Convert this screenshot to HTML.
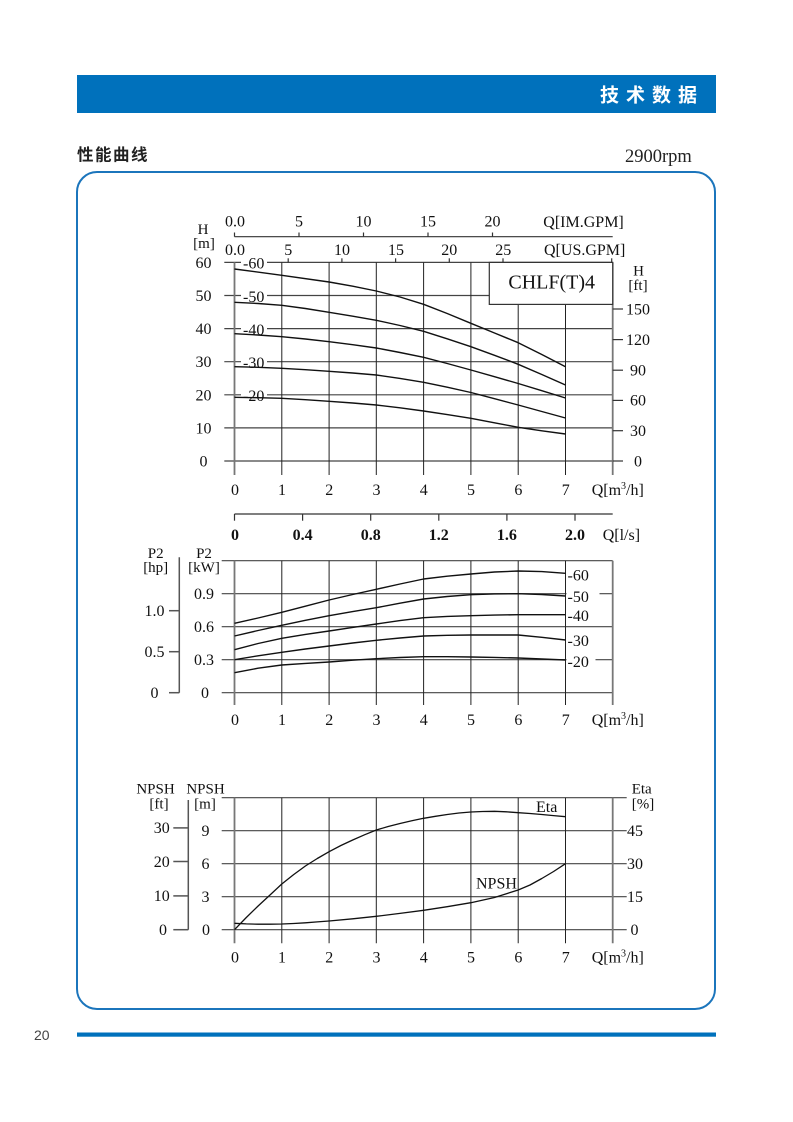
<!DOCTYPE html>
<html><head><meta charset="utf-8">
<style>
html,body{margin:0;padding:0;background:#fff;}
svg{display:block;}
.t{font-family:"Liberation Serif",serif;font-size:16px;fill:#111;}
.m{text-anchor:middle;}
.s{font-size:15px;}
</style></head>
<body>
<svg width="793" height="1122" viewBox="0 0 793 1122" xmlns="http://www.w3.org/2000/svg">
<!-- header -->
<rect x="77" y="75" width="639" height="38" fill="#0071bc"/>
<text x="600" y="101.5" style="font-family:'Liberation Sans','Noto Sans CJK SC',sans-serif;font-weight:bold;font-size:19px;letter-spacing:7px;fill:#fff">技术数据</text>
<text x="77" y="160.5" style="font-family:'Liberation Sans','Noto Sans CJK SC',sans-serif;font-weight:bold;font-size:16.5px;letter-spacing:1.5px;fill:#222">性能曲线</text>
<text x="625" y="162" style="font-family:'Liberation Serif',serif;font-size:18.5px;fill:#222">2900rpm</text>
<!-- frame -->
<rect x="77" y="172" width="638" height="837" rx="20" ry="20" fill="none" stroke="#1b75bc" stroke-width="2"/>
<!-- footer -->
<rect x="77" y="1032.5" width="639" height="4.2" fill="#0071bc"/>
<text x="34" y="1040" style="font-family:'Liberation Sans',sans-serif;font-size:14px;fill:#444">20</text>

<!-- ============ TOP CHART ============ -->
<g stroke="#444" stroke-width="1.2" fill="none">
<line x1="224.3" y1="461" x2="612.7" y2="461"/>
<line x1="224.3" y1="427.9" x2="612.7" y2="427.9"/>
<line x1="224.3" y1="394.8" x2="612.7" y2="394.8"/>
<line x1="224.3" y1="361.7" x2="612.7" y2="361.7"/>
<line x1="224.3" y1="328.6" x2="612.7" y2="328.6"/>
<line x1="224.3" y1="295.5" x2="612.7" y2="295.5"/>
<line x1="224.3" y1="262.4" x2="612.7" y2="262.4"/>
</g>
<g stroke="#222" stroke-width="1" fill="none">
<line x1="281.8" y1="262.4" x2="281.8" y2="475"/>
<line x1="329.1" y1="262.4" x2="329.1" y2="475"/>
<line x1="376.3" y1="262.4" x2="376.3" y2="475"/>
<line x1="423.6" y1="262.4" x2="423.6" y2="475"/>
<line x1="470.9" y1="262.4" x2="470.9" y2="475"/>
<line x1="518.2" y1="262.4" x2="518.2" y2="475"/>
<line x1="565.5" y1="262.4" x2="565.5" y2="475"/>
</g>
<g stroke="#777" stroke-width="1.8" fill="none">
<line x1="234.5" y1="262.4" x2="234.5" y2="475"/>
<line x1="612.7" y1="262.4" x2="612.7" y2="475"/>
</g>
<!-- right ft ticks -->
<g stroke="#333" stroke-width="1.2">
<line x1="612.7" y1="461" x2="623" y2="461"/>
<line x1="612.7" y1="430.7" x2="623" y2="430.7"/>
<line x1="612.7" y1="400.4" x2="623" y2="400.4"/>
<line x1="612.7" y1="370.2" x2="623" y2="370.2"/>
<line x1="612.7" y1="339.6" x2="623" y2="339.6"/>
<line x1="612.7" y1="309" x2="623" y2="309"/>
</g>
<!-- GPM axes -->
<g stroke="#333" stroke-width="1.2">
<line x1="234.5" y1="236.7" x2="612.7" y2="236.7"/>
<line x1="234.5" y1="232.5" x2="234.5" y2="236.7"/>
<line x1="299" y1="232.5" x2="299" y2="236.7"/>
<line x1="363.5" y1="232.5" x2="363.5" y2="236.7"/>
<line x1="428" y1="232.5" x2="428" y2="236.7"/>
<line x1="492.5" y1="232.5" x2="492.5" y2="236.7"/>
<line x1="288.2" y1="258.3" x2="288.2" y2="262.4"/>
<line x1="341.9" y1="258.3" x2="341.9" y2="262.4"/>
<line x1="395.6" y1="258.3" x2="395.6" y2="262.4"/>
<line x1="449.3" y1="258.3" x2="449.3" y2="262.4"/>
<line x1="503" y1="258.3" x2="503" y2="262.4"/>
<line x1="611.7" y1="258.3" x2="611.7" y2="262.4"/>
</g>
<g class="t m">
<text x="235" y="226.7">0.0</text>
<text x="299" y="226.7">5</text>
<text x="363.5" y="226.7">10</text>
<text x="428" y="226.7">15</text>
<text x="492.5" y="226.7">20</text>
<text x="235" y="255">0.0</text>
<text x="288.2" y="255">5</text>
<text x="342" y="255">10</text>
<text x="396" y="255">15</text>
<text x="449.3" y="255">20</text>
<text x="503.3" y="255">25</text>
</g>
<text class="t" x="543.3" y="227">Q[IM.GPM]</text>
<text class="t" x="544" y="255">Q[US.GPM]</text>
<!-- H[m] -->
<g class="t m">
<text class="s" x="203" y="234">H</text>
<text class="s" x="204" y="248">[m]</text>
<text x="203.5" y="267.9">60</text>
<text x="203.5" y="301">50</text>
<text x="203.5" y="334.1">40</text>
<text x="203.5" y="367.2">30</text>
<text x="203.5" y="400.3">20</text>
<text x="203.5" y="433.4">10</text>
<text x="203.5" y="466.5">0</text>
<text class="s" x="638.5" y="275.5">H</text>
<text class="s" x="638" y="290">[ft]</text>
<text x="638" y="314.3">150</text>
<text x="638" y="344.9">120</text>
<text x="638" y="375.5">90</text>
<text x="638" y="405.7">60</text>
<text x="638" y="436">30</text>
<text x="638" y="466.3">0</text>
<text x="235" y="495">0</text>
<text x="282" y="495">1</text>
<text x="329.3" y="495">2</text>
<text x="376.5" y="495">3</text>
<text x="423.8" y="495">4</text>
<text x="471" y="495">5</text>
<text x="518.4" y="495">6</text>
<text x="565.7" y="495">7</text>
</g>
<text class="t" x="591.7" y="495">Q[m<tspan font-size="10" dy="-6">3</tspan><tspan dy="6">/h]</tspan></text>
<!-- CHLF box -->
<rect x="489.3" y="262.4" width="123.4" height="42" fill="#fff" stroke="#333" stroke-width="1.2"/>
<text class="t m" x="551.7" y="288.5" style="font-size:20px">CHLF(T)4</text>
<!-- curve labels -->
<g fill="#fff">
<rect x="241" y="257.4" width="26" height="10"/>
<rect x="241" y="290.5" width="26" height="10"/>
<rect x="241" y="323.6" width="26" height="10"/>
<rect x="241" y="356.7" width="26" height="10"/>
<rect x="241" y="389.8" width="26" height="10"/>
</g>
<g class="t">
<text x="243" y="268.7">-60</text>
<text x="243" y="301.8">-50</text>
<text x="243" y="334.9">-40</text>
<text x="243" y="368">-30</text>
<text x="243" y="401.1">-20</text>
</g>
<g stroke="#111" stroke-width="1.4" fill="none" stroke-linejoin="round">
<polyline points="234.5,269 281.8,275.3 329.1,282 352.7,286.2 376.3,291 400,297 423.6,304.3 447.2,313.5 470.9,323.3 494.5,333 518.2,342.7 541.8,354.5 565.5,366.7"/>
<polyline points="234.5,302.3 258.1,303.5 281.8,305.3 305.4,308.5 329.1,312.3 352.7,316.2 376.3,320.3 400,325.5 423.6,331.3 447.2,338.8 470.9,346.7 494.5,355.3 518.2,364.3 541.8,374.5 565.5,385"/>
<polyline points="234.5,333.7 258.1,335 281.8,336.7 305.4,339 329.1,341.7 352.7,344.7 376.3,348 400,352.5 423.6,357.3 447.2,363.5 470.9,370 494.5,376.7 518.2,383.5 541.8,390.7 565.5,398"/>
<polyline points="234.5,366.7 258.1,367.3 281.8,368.3 305.4,369.7 329.1,371.3 352.7,373 376.3,375 400,378.4 423.6,382.3 447.2,387.2 470.9,392.5 494.5,398.7 518.2,405 541.8,411.5 565.5,418"/>
<polyline points="234.5,397.3 258.1,397.7 281.8,398.3 305.4,399.7 329.1,401.3 352.7,403 376.3,405 400,407.8 423.6,411 447.2,414.6 470.9,418.3 494.5,422.8 518.2,427.3 541.8,430.8 565.5,434"/>
</g>

<!-- ============ MIDDLE CHART ============ -->
<g stroke="#333" stroke-width="1.2">
<line x1="234.5" y1="514" x2="612.7" y2="514"/>
<line x1="234.5" y1="514" x2="234.5" y2="520.7"/>
<line x1="302.6" y1="514" x2="302.6" y2="520.7"/>
<line x1="370.7" y1="514" x2="370.7" y2="520.7"/>
<line x1="438.8" y1="514" x2="438.8" y2="520.7"/>
<line x1="506.9" y1="514" x2="506.9" y2="520.7"/>
<line x1="575" y1="514" x2="575" y2="520.7"/>
</g>
<g class="t m" style="font-weight:bold">
<text x="235" y="540">0</text>
<text x="302.6" y="540">0.4</text>
<text x="370.7" y="540">0.8</text>
<text x="438.8" y="540">1.2</text>
<text x="506.9" y="540">1.6</text>
<text x="575" y="540">2.0</text>
</g>
<text class="t" x="602.7" y="540">Q[l/s]</text>
<g stroke="#444" stroke-width="1.2" fill="none">
<line x1="221.7" y1="692.7" x2="612.7" y2="692.7"/>
<line x1="221.7" y1="659.7" x2="612.7" y2="659.7"/>
<line x1="221.7" y1="626.7" x2="612.7" y2="626.7"/>
<line x1="221.7" y1="593.7" x2="612.7" y2="593.7"/>
<line x1="221.7" y1="560.7" x2="612.7" y2="560.7"/>
</g>
<g stroke="#222" stroke-width="1" fill="none">
<line x1="281.8" y1="560.7" x2="281.8" y2="705"/>
<line x1="329.1" y1="560.7" x2="329.1" y2="705"/>
<line x1="376.3" y1="560.7" x2="376.3" y2="705"/>
<line x1="423.6" y1="560.7" x2="423.6" y2="705"/>
<line x1="470.9" y1="560.7" x2="470.9" y2="705"/>
<line x1="518.2" y1="560.7" x2="518.2" y2="705"/>
<line x1="565.5" y1="560.7" x2="565.5" y2="705"/>
</g>
<g stroke="#777" stroke-width="1.8" fill="none">
<line x1="234.5" y1="560.7" x2="234.5" y2="705"/>
<line x1="612.7" y1="560.7" x2="612.7" y2="705"/>
</g>
<!-- hp axis -->
<g stroke="#555" stroke-width="1.5">
<line x1="179.3" y1="557.3" x2="179.3" y2="692.7"/>
<line x1="169" y1="610.7" x2="179.3" y2="610.7"/>
<line x1="169" y1="651.7" x2="179.3" y2="651.7"/>
<line x1="169" y1="692.7" x2="179.3" y2="692.7"/>
</g>
<g class="t m">
<text class="s" x="155.7" y="558">P2</text>
<text class="s" x="155.7" y="572">[hp]</text>
<text class="s" x="204" y="558">P2</text>
<text class="s" x="204" y="572">[kW]</text>
<text x="154.5" y="616">1.0</text>
<text x="154.5" y="657">0.5</text>
<text x="154.5" y="698">0</text>
<text x="204" y="599">0.9</text>
<text x="204" y="632">0.6</text>
<text x="204" y="665">0.3</text>
<text x="205" y="698">0</text>
<text x="235" y="725">0</text>
<text x="282" y="725">1</text>
<text x="329.3" y="725">2</text>
<text x="376.5" y="725">3</text>
<text x="423.8" y="725">4</text>
<text x="471" y="725">5</text>
<text x="518.4" y="725">6</text>
<text x="565.7" y="725">7</text>
</g>
<text class="t" x="591.7" y="725">Q[m<tspan font-size="10" dy="-6">3</tspan><tspan dy="6">/h]</tspan></text>
<g stroke="#111" stroke-width="1.4" fill="none" stroke-linejoin="round">
<polyline points="234.5,623.3 258.1,618 281.8,612.3 305.4,606.2 329.1,600 352.7,594.5 376.3,589.3 400,584 423.6,579 447.2,576.2 470.9,574 494.5,572 518.2,571 541.8,571.6 565.5,573.3"/>
<polyline points="234.5,636 258.1,630.5 281.8,625.3 305.4,620.3 329.1,615.7 352.7,611.6 376.3,607.7 400,603.2 423.6,599 447.2,596.5 470.9,594.7 494.5,593.9 518.2,593.7 541.8,594.5 565.5,596"/>
<polyline points="234.5,649.7 258.1,643.5 281.8,638.3 305.4,634.4 329.1,631 352.7,627.4 376.3,624 400,620.6 423.6,617.7 447.2,616.4 470.9,615.7 494.5,615.1 518.2,614.7 541.8,614.7 565.5,614.7"/>
<polyline points="234.5,659.7 258.1,655.8 281.8,652.3 305.4,649 329.1,646 352.7,643 376.3,640.3 400,638 423.6,636 447.2,635.3 470.9,635 494.5,635 518.2,635 541.8,637.3 565.5,640"/>
<polyline points="234.5,672.7 258.1,668.2 281.8,665 305.4,663.4 329.1,662 352.7,660.2 376.3,658.7 400,657.5 423.6,656.7 447.2,656.7 470.9,657 494.5,657.4 518.2,658 541.8,659 565.5,660"/>
</g>
<g fill="#fff">
<rect x="566.5" y="569" width="28" height="12"/>
<rect x="566.5" y="590.5" width="33" height="12"/>
<rect x="566.5" y="609.5" width="28" height="12"/>
<rect x="566.5" y="634.5" width="28" height="12"/>
<rect x="566.5" y="655.5" width="29" height="12"/>
</g>
<g class="t">
<text x="567.5" y="580.3">-60</text>
<text x="567.5" y="602">-50</text>
<text x="567.5" y="621">-40</text>
<text x="567.5" y="646">-30</text>
<text x="567.5" y="667">-20</text>
</g>

<!-- ============ BOTTOM CHART ============ -->
<g stroke="#444" stroke-width="1.2" fill="none">
<line x1="221.7" y1="929.7" x2="626.7" y2="929.7"/>
<line x1="221.7" y1="896.7" x2="626.7" y2="896.7"/>
<line x1="221.7" y1="863.7" x2="626.7" y2="863.7"/>
<line x1="221.7" y1="830.7" x2="626.7" y2="830.7"/>
<line x1="221.7" y1="797.7" x2="626.7" y2="797.7"/>
</g>
<g stroke="#222" stroke-width="1" fill="none">
<line x1="281.8" y1="797.7" x2="281.8" y2="943.3"/>
<line x1="329.1" y1="797.7" x2="329.1" y2="943.3"/>
<line x1="376.3" y1="797.7" x2="376.3" y2="943.3"/>
<line x1="423.6" y1="797.7" x2="423.6" y2="943.3"/>
<line x1="470.9" y1="797.7" x2="470.9" y2="943.3"/>
<line x1="518.2" y1="797.7" x2="518.2" y2="943.3"/>
<line x1="565.5" y1="797.7" x2="565.5" y2="943.3"/>
</g>
<g stroke="#777" stroke-width="1.8" fill="none">
<line x1="234.5" y1="797.7" x2="234.5" y2="943.3"/>
<line x1="612.7" y1="797.7" x2="612.7" y2="943.3"/>
</g>
<g stroke="#555" stroke-width="1.5">
<line x1="188.3" y1="800" x2="188.3" y2="929.7"/>
<line x1="173.3" y1="827.9" x2="188.3" y2="827.9"/>
<line x1="173.3" y1="861.5" x2="188.3" y2="861.5"/>
<line x1="173.3" y1="895.9" x2="188.3" y2="895.9"/>
<line x1="173.3" y1="929.7" x2="188.3" y2="929.7"/>
</g>
<g class="t m">
<text class="s" x="155.5" y="793.5">NPSH</text>
<text class="s" x="159" y="808.5">[ft]</text>
<text class="s" x="205.5" y="793.5">NPSH</text>
<text class="s" x="205" y="808.5">[m]</text>
<text class="s" x="641.7" y="793.5">Eta</text>
<text class="s" x="643" y="808.5">[%]</text>
<text x="161.7" y="833.2">30</text>
<text x="161.7" y="866.8">20</text>
<text x="161.7" y="901.2">10</text>
<text x="163" y="935">0</text>
<text x="205.5" y="836">9</text>
<text x="205.5" y="869">6</text>
<text x="205.5" y="902">3</text>
<text x="206" y="935">0</text>
<text x="635" y="836">45</text>
<text x="635" y="869">30</text>
<text x="635" y="902">15</text>
<text x="634.5" y="935">0</text>
<text x="235" y="962.7">0</text>
<text x="282" y="962.7">1</text>
<text x="329.3" y="962.7">2</text>
<text x="376.5" y="962.7">3</text>
<text x="423.8" y="962.7">4</text>
<text x="471" y="962.7">5</text>
<text x="518.4" y="962.7">6</text>
<text x="565.7" y="962.7">7</text>
</g>
<text class="t" x="591.7" y="962.7">Q[m<tspan font-size="10" dy="-6">3</tspan><tspan dy="6">/h]</tspan></text>
<g stroke="#111" stroke-width="1.3" fill="none" stroke-linejoin="round">
<polyline points="234.5,929.7 246.3,917.5 258.1,906 270,895 281.8,884 293.6,874.6 305.4,866 317.3,858.5 329.1,851.7 340.9,845.5 352.7,840 364.5,834.8 376.3,830 388.2,826.5 400,823.5 411.8,820.8 423.6,818.3 435.4,816.3 447.2,814.5 459,813 470.9,812 482.7,811.5 494.5,811.3 506.4,811.8 518.2,812.7 530,813.5 541.8,814.5 553.6,815.6 565.5,816.7"/>
<polyline points="234.5,923.3 246.3,923.9 258.1,924.2 270,924.2 281.8,924 293.6,923.5 305.4,922.8 317.3,921.9 329.1,921 352.7,918.8 376.3,916.3 400,913.4 423.6,910.3 447.2,906.7 470.9,902.7 494.5,897.5 518.2,890 530,885 541.8,878.5 553.6,871.5 565.5,863.7"/>
</g>
<text class="t" x="476" y="888.5">NPSH</text>
<text class="t" x="536" y="812">Eta</text>
</svg>
</body></html>
